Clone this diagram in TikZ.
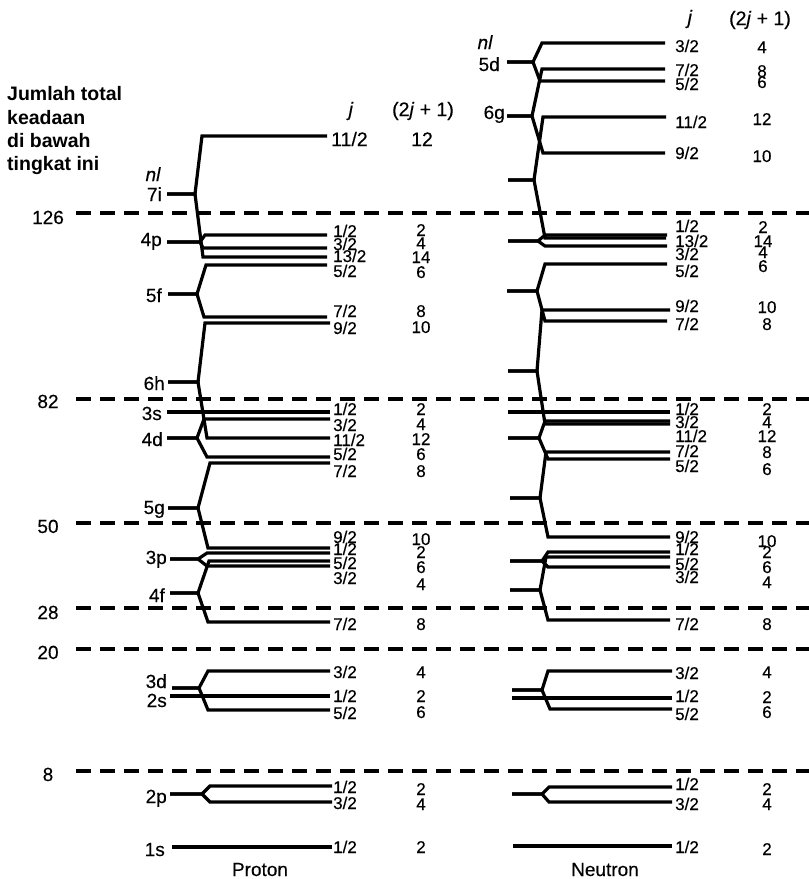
\documentclass[tikz,border=0pt]{standalone}
\usepackage{fontspec}
\setmainfont{Liberation Sans}
\newfontfamily\lblfont{Liberation Sans}[FakeBold=0.3]
\newcommand\splitlevel[8]{%
  \draw[lvl] (#1,#2) -- (#3,#2) -- (#4,#5) -- (#8,#5);
  \draw[lvl] (#1,#2) -- (#3,#2) -- (#6,#7) -- (#8,#7);}
\newcommand\prow[5]{\node[jl] (pj#1) at (333,#2) {#3}; \node[nm] (pn#1) at (421,#4) {#5};}
\newcommand\nrow[6]{\node[jl] (nj#1) at (675,#2) {#3}; \node[nm] (nn#1) at (#6,#4) {#5};}
\begin{document}
\begin{tikzpicture}[x=1pt,y=-1pt,
  lvl/.style={line width=3.2pt, line join=miter, line cap=butt},
  sep/.style={line width=3.2pt, dash pattern=on 15pt off 9pt},
  jl/.style={anchor=base west, inner sep=0pt, font=\lblfont\fontsize{17}{17}\selectfont},
  nm/.style={anchor=base, inner sep=0pt, font=\lblfont\fontsize{17}{17}\selectfont},
  nlab/.style={anchor=base east, inner sep=0pt, font=\lblfont\fontsize{19}{20}\selectfont},
  mg/.style={anchor=base, inner sep=0pt, font=\lblfont\fontsize{19}{20}\selectfont},
  hd/.style={anchor=base, inner sep=0pt, font=\lblfont\fontsize{19.5}{20}\selectfont},
  bt/.style={anchor=base west, inner sep=0pt, font=\bfseries\fontsize{19.5}{20}\selectfont},
]
\useasboundingbox (0,0) rectangle (809,879);

% magic-number separators
\foreach \yy/\lab/\bl in {213/126/224, 399/82/408, 523/50/533, 608/28/619, 649/20/659, 771/8/781}{
  \draw[sep] (76,\yy) -- (809,\yy);
  \node[mg] (m\lab) at (48,\bl) {\lab};
}

% title
\node[bt] (t1) at (7,100) {Jumlah total};
\node[bt] (t2) at (7,124) {keadaan};
\node[bt] (t3) at (7,147) {di bawah};
\node[bt] (t4) at (7,170) {tingkat ini};

% headers
\node[hd] (phj) at (351,116) {\textit{j}};
\node[hd] (ph2j) at (423,116) {(2\textit{j} + 1)};
\node[anchor=base west, inner sep=0pt, font=\lblfont\fontsize{19.5}{20}\selectfont] (p112) at (331,146) {11/2};
\node[hd] (p12) at (422,146) {12};
\node[hd] (nhj) at (690,24) {\textit{j}};
\node[hd] (nh2j) at (760,25) {(2\textit{j} + 1)};

% proton level labels
\node[nlab] (pnl) at (161,181) {\textit{nl}};
\node[nlab] (p7i) at (162,201) {7i};
\node[nlab] (p4p) at (162,246) {4p};
\node[nlab] (p5f) at (162,302) {5f};
\node[nlab] (p6h) at (165,390) {6h};
\node[nlab] (p3s) at (162,420) {3s};
\node[nlab] (p4d) at (163,446) {4d};
\node[nlab] (p5g) at (165,514) {5g};
\node[nlab] (p3p) at (167,564) {3p};
\node[nlab] (p4f) at (165,602) {4f};
\node[nlab] (p3d) at (167,688) {3d};
\node[nlab] (p2s) at (167,707) {2s};
\node[nlab] (p2p) at (167,803) {2p};
\node[nlab] (p1s) at (165,856) {1s};

% neutron level labels
\node[nlab] (nnl) at (493,49) {\textit{nl}};
\node[nlab] (n5d) at (500,71) {5d};
\node[nlab] (n6g) at (505,119) {6g};

% proton levels
\splitlevel{167}{194}{195}{202}{136}{203}{257}{327}
\splitlevel{167}{242}{200}{205}{235}{203}{248}{327}
\splitlevel{168}{294}{197}{206}{265}{204}{317}{327}
\splitlevel{168}{382}{198}{205}{323}{207}{438}{330}
\draw[lvl] (167,412) -- (330,412);
\splitlevel{167}{438}{197}{204}{419}{207}{457}{330}
\splitlevel{168}{508}{198}{210}{463}{208}{548}{330}
\splitlevel{170}{559}{198}{207}{553}{207}{566}{330}
\splitlevel{170}{593}{198}{209}{561}{208}{622}{330}
\splitlevel{172}{688}{199}{208}{671}{208}{710}{330}
\draw[lvl] (170,696) -- (330,696);
\splitlevel{170}{794}{202}{210}{786}{210}{802}{332}
\draw[lvl] (172,847) -- (332,847);

% neutron levels
\splitlevel{507}{62}{533}{542}{43}{540}{81}{665}
\splitlevel{507}{116}{532}{542}{69}{543}{153}{665}
\splitlevel{508}{180}{534}{543}{117}{545}{238}{666}
\splitlevel{508}{241}{538}{545}{235}{545}{246}{667}
\splitlevel{507}{291}{537}{545}{264}{545}{321}{667}
\splitlevel{508}{371}{537}{542}{310}{545}{424}{670}
\draw[lvl] (508,412) -- (670,412);
\splitlevel{508}{438}{539}{545}{421}{548}{459}{670}
\splitlevel{510}{498}{540}{546}{452}{548}{537}{670}
\splitlevel{510}{561}{542}{548}{552}{548}{567}{670}
\splitlevel{510}{590}{540}{546}{557}{548}{620}{670}
\splitlevel{512}{690}{542}{548}{671}{550}{709}{672}
\draw[lvl] (512,698) -- (672,698);
\splitlevel{512}{794}{542}{549}{787}{549}{802}{672}
\draw[lvl] (513,846) -- (672,846);

% proton j and 2j+1
\prow{a}{237}{1/2}{236}{2}
\prow{b}{250}{3/2}{249}{4}
\prow{c}{262}{13/2}{263}{14}
\prow{d}{277}{5/2}{278}{6}
\prow{e}{317}{7/2}{317}{8}
\prow{f}{334}{9/2}{333}{10}
\prow{g}{415}{1/2}{415}{2}
\prow{h}{431}{3/2}{430}{4}
\prow{i}{446}{11/2}{445}{12}
\prow{j}{460}{5/2}{460}{6}
\prow{k}{477}{7/2}{477}{8}
\prow{l}{543}{9/2}{545}{10}
\prow{m}{555}{1/2}{558}{2}
\prow{n}{569}{5/2}{573}{6}
\prow{o}{584}{3/2}{590}{4}
\prow{p}{630}{7/2}{630}{8}
\prow{q}{678}{3/2}{678}{4}
\prow{r}{702}{1/2}{702}{2}
\prow{s}{719}{5/2}{718}{6}
\prow{t}{793}{1/2}{795}{2}
\prow{u}{809}{3/2}{810}{4}
\prow{v}{853}{1/2}{853}{2}

% neutron j and 2j+1
\nrow{a}{52}{3/2}{53}{4}{762}
\nrow{b}{76}{7/2}{77}{8}{762}
\nrow{c}{90}{5/2}{88}{6}{762}
\nrow{d}{128}{11/2}{125}{12}{762}
\nrow{e}{159}{9/2}{162}{10}{762}
\nrow{f}{232}{1/2}{233}{2}{763}
\nrow{g}{247}{13/2}{247}{14}{763}
\nrow{h}{260}{3/2}{258}{4}{763}
\nrow{i}{277}{5/2}{272}{6}{763}
\nrow{j}{312}{9/2}{313}{10}{767}
\nrow{k}{330}{7/2}{330}{8}{767}
\nrow{l}{415}{1/2}{415}{2}{767}
\nrow{m}{428}{3/2}{428}{4}{767}
\nrow{n}{442}{11/2}{442}{12}{767}
\nrow{o}{457}{7/2}{458}{8}{767}
\nrow{p}{472}{5/2}{475}{6}{767}
\nrow{q}{543}{9/2}{547}{10}{767}
\nrow{r}{555}{1/2}{558}{2}{767}
\nrow{s}{570}{5/2}{573}{6}{767}
\nrow{t}{583}{3/2}{588}{4}{767}
\nrow{u}{630}{7/2}{630}{8}{767}
\nrow{v}{679}{3/2}{678}{4}{767}
\nrow{w}{702}{1/2}{703}{2}{767}
\nrow{x}{720}{5/2}{718}{6}{767}
\nrow{y}{790}{1/2}{795}{2}{767}
\nrow{z}{810}{3/2}{810}{4}{767}
\nrow{zz}{853}{1/2}{855}{2}{767}

% bottom titles
\node[mg] (proton) at (260,876) {Proton};
\node[mg] (neutron) at (605,876) {Neutron};
\end{tikzpicture}
\end{document}
